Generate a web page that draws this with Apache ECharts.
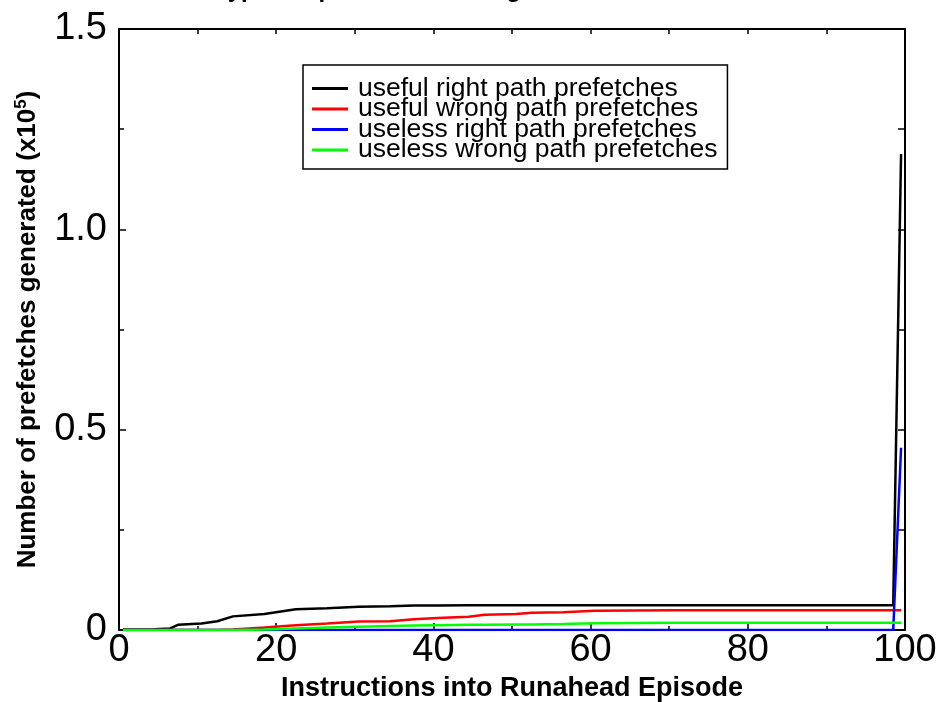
<!DOCTYPE html>
<html>
<head>
<meta charset="utf-8">
<script src="https://cdn.jsdelivr.net/npm/echarts@6/dist/echarts.min.js"></script>
<style>
html,body{margin:0;padding:0;background:#fff;}
#chart{width:946px;height:702px;}
</style>
</head>
<body>
<div id="chart"></div>
<script>
// x positions (instructions into runahead episode)
var xs = [0.5, 4.5, 6.5, 7.5, 10.5, 12.5, 14.5, 18.5, 22.5, 26.5, 30.5, 34.5, 37.5, 40.5, 44.5, 46.5, 50.5, 52.5, 56.5, 60.5, 70.5, 80.5, 90.5, 98.5, 99.5];
// values (x10^5)
var usefulRight = [0.001, 0.002, 0.004, 0.013, 0.016, 0.022, 0.034, 0.040, 0.052, 0.054, 0.058, 0.059, 0.061, 0.061, 0.062, 0.062, 0.062, 0.062, 0.062, 0.062, 0.062, 0.062, 0.062, 0.062, 1.188];
var usefulWrong = [0, 0, 0, 0, 0, 0, 0.001, 0.006, 0.012, 0.016, 0.021, 0.022, 0.027, 0.030, 0.033, 0.038, 0.040, 0.043, 0.044, 0.048, 0.049, 0.049, 0.049, 0.049, 0.049];
var uselessRight = [0, 0, 0, 0, 0, 0, 0, 0, 0, 0, 0, 0, 0, 0, 0, 0, 0, 0, 0, 0, 0, 0, 0, 0, 0.455];
var uselessWrong = [0, 0, 0, 0, 0, 0, 0, 0.001, 0.004, 0.006, 0.008, 0.010, 0.011, 0.012, 0.013, 0.013, 0.014, 0.014, 0.015, 0.017, 0.018, 0.018, 0.018, 0.018, 0.018];
var seriesNames = ['useful right path prefetches', 'useful wrong path prefetches', 'useless right path prefetches', 'useless wrong path prefetches'];
var seriesColors = ['#000000', '#ff0000', '#0000ff', '#00ff00'];
var xTicks = [0, 20, 40, 60, 80, 100];
var yTicks = ['0', '0.5', '1.0', '1.5'];
var titleText = 'MCF: Types of prefetches during MCF in 1M-inst simulated runahead';

var FONT = '"Liberation Sans", Arial, Helvetica, sans-serif';
function pairs(arr){ return xs.map(function(x,i){ return [x, arr[i]]; }); }

var chart = echarts.init(document.getElementById('chart'));
var valuesBySeries = [usefulRight, usefulWrong, uselessRight, uselessWrong];
var drawOrder = [0, 1, 3, 2];
var series = drawOrder.map(function(k){
  return {
    name: seriesNames[k], type: 'line', data: pairs(valuesBySeries[k]),
    showSymbol: false, symbol: 'none', xAxisIndex: 0, yAxisIndex: 0,
    lineStyle: { color: seriesColors[k], width: 2.5 }, itemStyle: { color: seriesColors[k] },
    z: 3 + k
  };
});

var option = {
  animation: false,
  backgroundColor: '#fff',
  textStyle: { fontFamily: FONT },
  graphic: [{
    type: 'text', x: 540, y: 2,
    style: { text: titleText, font: 'bold 24px ' + FONT, fill: '#000', textAlign: 'center', textVerticalAlign: 'bottom' }
  }],
  grid: { left: 119, right: 41, top: 29, bottom: 72, containLabel: false, outerBoundsMode: 'none' },
  legend: {
    orient: 'vertical', left: 303, top: 65,
    data: seriesNames,
    backgroundColor: '#fff', borderColor: '#000', borderWidth: 1.5,
    padding: [10, 10, 5.5, 9], itemGap: -6.5,
    itemWidth: 36, itemHeight: 3, icon: 'rect',
    textStyle: { fontFamily: FONT, fontSize: 26.5, color: '#000', padding: [0, 0, 0, 5] }
  },
  xAxis: [{
    type: 'value', position: 'bottom', min: 0, max: 100, interval: 20,
    name: 'Instructions into Runahead Episode', nameLocation: 'middle', nameGap: 45,
    nameTextStyle: { fontFamily: FONT, fontWeight: 'bold', fontSize: 27, color: '#000' },
    axisLine: { show: true, onZero: false, lineStyle: { color: '#000', width: 2 } },
    axisTick: { show: true, inside: true, length: 7, lineStyle: { color: '#000', width: 1.5 } },
    minorTick: { show: true, splitNumber: 2, length: 4, lineStyle: { color: '#000', width: 1.5 } },
    axisLabel: { fontFamily: FONT, fontSize: 38, color: '#000', margin: 2 },
    splitLine: { show: false }
  }, {
    type: 'value', position: 'top', min: 0, max: 100, interval: 10,
    axisLine: { show: true, onZero: false, lineStyle: { color: '#000', width: 2 } },
    axisTick: { show: true, inside: true, length: 5, lineStyle: { color: '#000', width: 1.5 } },
    axisLabel: { show: false }, splitLine: { show: false }
  }],
  yAxis: [{
    type: 'value', position: 'left', min: 0, max: 1.5, interval: 0.5,
    name: '{a|Number of prefetches generated (x10}{s|5}{a|)}', nameLocation: 'middle', nameGap: 77, nameRotate: 90,
    nameTextStyle: { rich: {
      a: { fontFamily: FONT, fontWeight: 'bold', fontSize: 26, color: '#000' },
      s: { fontFamily: FONT, fontWeight: 'bold', fontSize: 17, color: '#000', verticalAlign: 'top', padding: [0,0,12,0] }
    } },
    axisLine: { show: true, onZero: false, lineStyle: { color: '#000', width: 2 } },
    axisTick: { show: true, inside: true, length: 7, lineStyle: { color: '#000', width: 1.5 } },
    minorTick: { show: true, splitNumber: 2, length: 5, lineStyle: { color: '#000', width: 1.5 } },
    axisLabel: { fontFamily: FONT, fontSize: 38, color: '#000', margin: 12,
      formatter: function(v){ return yTicks[Math.round(v / 0.5)]; } },
    splitLine: { show: false }
  }, {
    type: 'value', position: 'right', min: 0, max: 1.5, interval: 0.25,
    axisLine: { show: true, onZero: false, lineStyle: { color: '#000', width: 2 } },
    axisTick: { show: true, inside: true, length: 7, lineStyle: { color: '#000', width: 1.5 } },
    axisLabel: { show: false }, splitLine: { show: false }
  }],
  series: series
};
option.xAxis[0].axisLabel.formatter = function(v){ return String(xTicks[Math.round(v/20)]); };
chart.setOption(option);
</script>
</body>
</html>
